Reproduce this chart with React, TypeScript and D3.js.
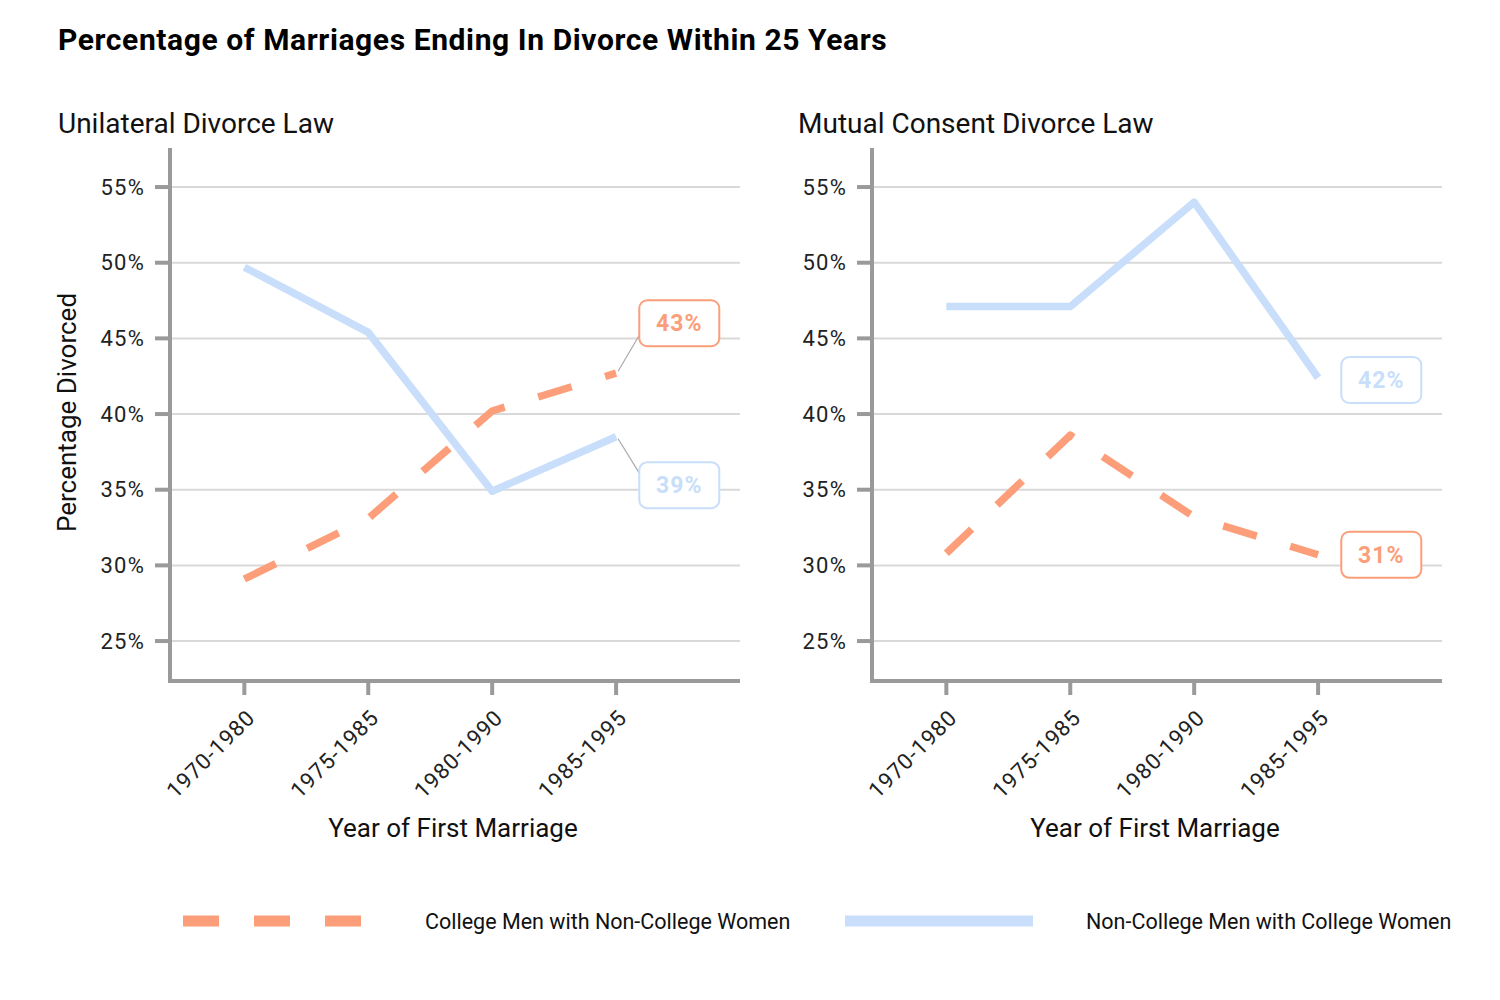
import { useEffect, useRef } from 'react';
import * as d3 from 'd3';

// data
const periods = ['1970-1980', '1975-1985', '1980-1990', '1985-1995'];
const yTicks = [25, 30, 35, 40, 45, 50, 55];

const unilateralCollegeMen = [29.1, 33.1, 40.2, 42.7];
const unilateralNonCollegeMen = [49.7, 45.4, 34.9, 38.5];
const mutualCollegeMen = [30.8, 38.6, 33.2, 30.7];
const mutualNonCollegeMen = [47.1, 47.1, 54.0, 42.4];

// where the end labels were placed (in % units), like ggrepel did
const unilateralLabelY = [46.0, 35.3];
const mutualLabelY = [30.7, 42.25];

const seriesNames = ['College Men with Non-College Women', 'Non-College Men with College Women'];

const ORANGE = '#fc9e7a';
const BLUE = '#c8defa';
const AXIS = '#9a9a9a';
const GRID = '#d9d9d9';
const FONT = 'Roboto, "Noto Sans", sans-serif';

export default function App() {
  const svgRef = useRef<SVGSVGElement>(null);
  const width = 1500;
  const height = 1000;

  useEffect(() => {
    if (!svgRef.current) return;
    const svg = d3.select(svgRef.current);
    svg.selectAll('*').remove();

    svg.append('rect').attr('width', width).attr('height', height).attr('fill', '#fff');

    // Title
    svg.append('text')
      .attr('x', 58)
      .attr('y', 50)
      .attr('font-family', FONT)
      .attr('font-size', '30px')
      .attr('font-weight', '700')
      .attr('letter-spacing', '0.6px')
      .attr('fill', '#000')
      .text('Percentage of Marriages Ending In Divorce Within 25 Years');

    const panels = [
      { title: 'Unilateral Divorce Law', left: 170, titleX: 58, series: [unilateralCollegeMen, unilateralNonCollegeMen], labelY: unilateralLabelY },
      { title: 'Mutual Consent Divorce Law', left: 872, titleX: 798, series: [mutualCollegeMen, mutualNonCollegeMen], labelY: mutualLabelY },
    ];

    const plotTop = 148;
    const plotBottom = 681;
    const plotW = 570;

    const yScale = d3.scaleLinear().domain([22.36, 57.58]).range([plotBottom, plotTop]);
    const xScale = d3.scaleLinear().domain([-0.6, 4]).range([0, plotW]);

    const colors = [ORANGE, BLUE];
    const dashes = ['35,35', null];

    panels.forEach((p, pi) => {
      svg.append('text')
        .attr('x', p.titleX)
        .attr('y', 133)
        .attr('font-family', FONT)
        .attr('font-size', '28px')
        .attr('fill', '#111')
        .text(p.title);

      const g = svg.append('g').attr('transform', `translate(${p.left},0)`);

      // grid
      g.selectAll('.grid')
        .data(yTicks)
        .join('line')
        .attr('x1', 0)
        .attr('x2', plotW)
        .attr('y1', d => yScale(d))
        .attr('y2', d => yScale(d))
        .attr('stroke', GRID)
        .attr('stroke-width', 2);

      // y ticks + labels
      g.selectAll('.ytick')
        .data(yTicks)
        .join('line')
        .attr('x1', -15)
        .attr('x2', 0)
        .attr('y1', d => yScale(d))
        .attr('y2', d => yScale(d))
        .attr('stroke', AXIS)
        .attr('stroke-width', 4);

      g.selectAll('.ylab')
        .data(yTicks)
        .join('text')
        .attr('x', -25)
        .attr('y', d => yScale(d))
        .attr('dy', '0.35em')
        .attr('text-anchor', 'end')
        .attr('font-family', FONT)
        .attr('font-size', '22px')
        .attr('letter-spacing', '1.2px')
        .attr('fill', '#222')
        .text(d => `${d}%`);

      // x ticks + labels
      g.selectAll('.xtick')
        .data(periods)
        .join('line')
        .attr('x1', (_, i) => xScale(i))
        .attr('x2', (_, i) => xScale(i))
        .attr('y1', plotBottom)
        .attr('y2', plotBottom + 14)
        .attr('stroke', AXIS)
        .attr('stroke-width', 4);

      g.selectAll('.xlab')
        .data(periods)
        .join('text')
        .attr('transform', (_, i) => `translate(${xScale(i) + 12},${plotBottom + 38}) rotate(-45)`)
        .attr('text-anchor', 'end')
        .attr('font-family', FONT)
        .attr('font-size', '22px')
        .attr('letter-spacing', '1px')
        .attr('fill', '#222')
        .text(d => d);

      // axis lines
      g.append('line')
        .attr('x1', 0).attr('x2', 0)
        .attr('y1', plotTop).attr('y2', plotBottom + 2)
        .attr('stroke', AXIS).attr('stroke-width', 4);
      g.append('line')
        .attr('x1', -2).attr('x2', plotW)
        .attr('y1', plotBottom).attr('y2', plotBottom)
        .attr('stroke', AXIS).attr('stroke-width', 4);

      // x title
      g.append('text')
        .attr('x', plotW / 2 - 2)
        .attr('y', 837)
        .attr('text-anchor', 'middle')
        .attr('font-family', FONT)
        .attr('font-size', '26px')
        .attr('fill', '#111')
        .text('Year of First Marriage');

      const line = d3.line<number>()
        .x((_, i) => xScale(i))
        .y(d => yScale(d));

      // blue first, orange dashed on top
      [1, 0].forEach(si => {
        const path = g.append('path')
          .attr('d', line(p.series[si]))
          .attr('fill', 'none')
          .attr('stroke', colors[si])
          .attr('stroke-width', 7.5)
          .attr('stroke-linejoin', 'round')
          .attr('stroke-linecap', 'butt');
        if (dashes[si]) path.attr('stroke-dasharray', dashes[si] as string);
      });

      // end labels
      const boxW = 80;
      const boxH = 46;
      p.series.forEach((vals, si) => {
        const last = vals[vals.length - 1];
        const px = xScale(vals.length - 1);
        const py = yScale(last);
        const cx = xScale(3.51);
        const cy = yScale(p.labelY[si]);
        if (Math.abs(py - cy) > boxH / 2) {
          const ey = cy + (py > cy ? 12 : -12);
          g.append('line')
            .attr('x1', px + 2).attr('y1', py + (py > cy ? -2 : 2))
            .attr('x2', cx - boxW / 2).attr('y2', ey)
            .attr('stroke', '#aaa')
            .attr('stroke-width', 1.2);
        }
        g.append('rect')
          .attr('x', cx - boxW / 2)
          .attr('y', cy - boxH / 2)
          .attr('width', boxW)
          .attr('height', boxH)
          .attr('rx', 8)
          .attr('fill', '#fff')
          .attr('stroke', colors[si])
          .attr('stroke-width', 2);
        g.append('text')
          .attr('x', cx)
          .attr('y', cy)
          .attr('dy', '0.35em')
          .attr('text-anchor', 'middle')
          .attr('font-family', FONT)
          .attr('font-size', '23px')
          .attr('font-weight', '700')
          .attr('letter-spacing', '1px')
          .attr('fill', colors[si])
          .text(`${Math.round(last)}%`);
      });

      if (pi === 0) {
        svg.append('text')
          .attr('transform', `translate(76,${(plotTop + plotBottom) / 2 - 2}) rotate(-90)`)
          .attr('text-anchor', 'middle')
          .attr('font-family', FONT)
          .attr('font-size', '26px')
          .attr('fill', '#111')
          .text('Percentage Divorced');
      }
    });

    // legend
    const legendItems = [
      { x1: 183, x2: 361, textX: 425, color: ORANGE, dash: '36,35' },
      { x1: 845, x2: 1033, textX: 1086, color: BLUE, dash: null },
    ];
    legendItems.forEach((item, i) => {
      const l = svg.append('line')
        .attr('x1', item.x1).attr('x2', item.x2)
        .attr('y1', 921).attr('y2', 921)
        .attr('stroke', item.color)
        .attr('stroke-width', 11);
      if (item.dash) l.attr('stroke-dasharray', item.dash);
      svg.append('text')
        .attr('x', item.textX)
        .attr('y', 921)
        .attr('dy', '0.35em')
        .attr('font-family', FONT)
        .attr('font-size', '21.5px')
        .attr('fill', '#111')
        .text(seriesNames[i]);
    });
  }, []);

  return (
    <svg
      ref={svgRef}
      width={width}
      height={height}
      style={{ position: 'absolute', left: 0, top: 0, display: 'block' }}
    />
  );
}
